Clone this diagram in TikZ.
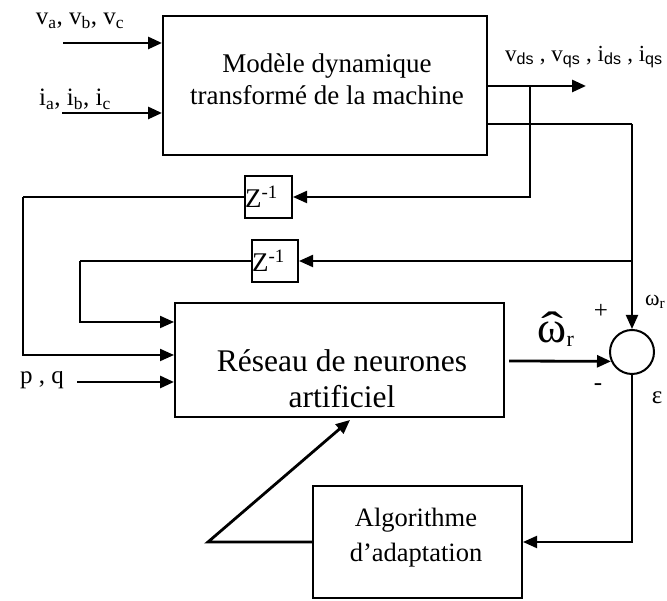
\documentclass[tikz,border=0pt]{standalone}
\usepackage{fontspec}
\setmainfont{Liberation Serif}
\newfontfamily\sansf{Liberation Sans}
\newcommand\sbs[1]{\textsubscript{\sansf #1}}
\usetikzlibrary{arrows.meta}
\begin{document}
\begin{tikzpicture}[x=1pt,y=1pt,
  blk/.style={draw,line width=2pt,inner sep=0pt},
  ln/.style={line width=2pt},
  arr/.style={line width=2pt,-{Triangle[length=14pt,width=12pt]}},
  harr/.style={line width=2.8pt,-{Triangle[length=14pt,width=12pt]}},
  lbl/.style={inner sep=0pt,font=\fontsize{25}{26}\selectfont},
  txt/.style={inner sep=0pt,align=center}]
\useasboundingbox (0,0) rectangle (667,601);
% blocks
\node[blk,minimum width=324pt,minimum height=139pt] (M) at (325,515.5) {};
\node[txt,font=\fontsize{27}{32}\selectfont] (Mt) at (327,522) {Modèle dynamique\\transformé de la machine};
\node[blk,minimum width=47pt,minimum height=42pt] (Z1) at (268.5,404) {};
\node[inner sep=0pt,anchor=west,font=\fontsize{27}{28}\selectfont] (Z1t) at ([xshift=1pt]Z1.west) {Z\textsuperscript{-1}};
\node[blk,minimum width=46pt,minimum height=42pt] (Z2) at (275,340) {};
\node[inner sep=0pt,anchor=west,font=\fontsize{27}{28}\selectfont] (Z2t) at ([xshift=1pt]Z2.west) {Z\textsuperscript{-1}};
\node[blk,minimum width=329pt,minimum height=114pt] (NN) at (339.5,241) {};
\node[txt,font=\fontsize{31.5}{36}\selectfont] (NNt) at (342,222) {Réseau de neurones\\artificiel};
\node[blk,circle,minimum size=44pt] (S) at (632,249) {};
\node[blk,minimum width=209pt,minimum height=112pt] (A) at (417.5,59) {};
\node[txt,font=\fontsize{26.5}{35}\selectfont] (At) at (416,63) {Algorithme\\d’adaptation};
% labels
\node[lbl] (lva) at (80,580) {v\textsubscript{a}, v\textsubscript{b}, v\textsubscript{c}};
\node[lbl] (lia) at (75,502) {i\textsubscript{a}, i\textsubscript{b}, i\textsubscript{c}};
\node[lbl,anchor=west,font=\fontsize{23}{26}\selectfont] (lout) at (505,544) {v\sbs{ds} , v\sbs{qs} , i\sbs{ds} , i\sbs{qs}};
\node[lbl] (lpq) at (42,221) {p , q};
\node[inner sep=0pt,font=\fontsize{44}{44}\selectfont] (lw) at (556,272) {\rlap{\hspace{0.09em}\scalebox{1.5}[1]{ˆ}}ω\textsubscript{\fontsize{22}{22}\selectfont r}};
\node[lbl] (lplus) at (601,290) {+};
\node[lbl] (lminus) at (598,214) {-};
\node[lbl,anchor=west,font=\fontsize{22}{24}\selectfont] (lwr) at (645,299) {ω\textsubscript{r}};
\node[lbl] (leps) at (657,203) {ε};
% coordinates
\coordinate (va) at (63,558);
\coordinate (ia) at (62,488);
\coordinate (otip) at (586,515);
\coordinate (b1) at (530,515);
\coordinate (o2) at (632,477);
\coordinate (b2) at (632,340);
\coordinate (c1) at (23,404);
\coordinate (c1b) at (23,246);
\coordinate (c2) at (80,340);
\coordinate (c2b) at (80,279);
\coordinate (pq) at (77,219);
\coordinate (nno) at (509,240);
\coordinate (ec) at (632,59);
\coordinate (ad) at (208,59);
\coordinate (adt) at (350,181);
% connectors
\draw[harr] (va) -- (va -| M.west);
\draw[harr] (ia) -- (ia -| M.west);
\draw[harr] (M.east |- otip) -- (otip);
\draw[arr] (b1) |- (Z1.east);
\draw[ln] (M.east |- o2) -- (o2);
\draw[arr] (o2) -- (S.north);
\draw[arr] (b2) -- (Z2.east);
\draw[ln] (Z1.west) -- (c1);
\draw[arr] (c1) -- (c1b) -- (c1b -| NN.west);
\draw[ln] (Z2.west) -- (c2);
\draw[arr] (c2) -- (c2b) -- (c2b -| NN.west);
\draw[harr] (pq) -- (pq -| NN.west);
\draw[harr] (nno) -- (S.204);
\draw[arr] (S.south) -- (ec) -- (A.east);
\draw[harr] (A.west) -- (ad) -- (adt);
\end{tikzpicture}
\end{document}
